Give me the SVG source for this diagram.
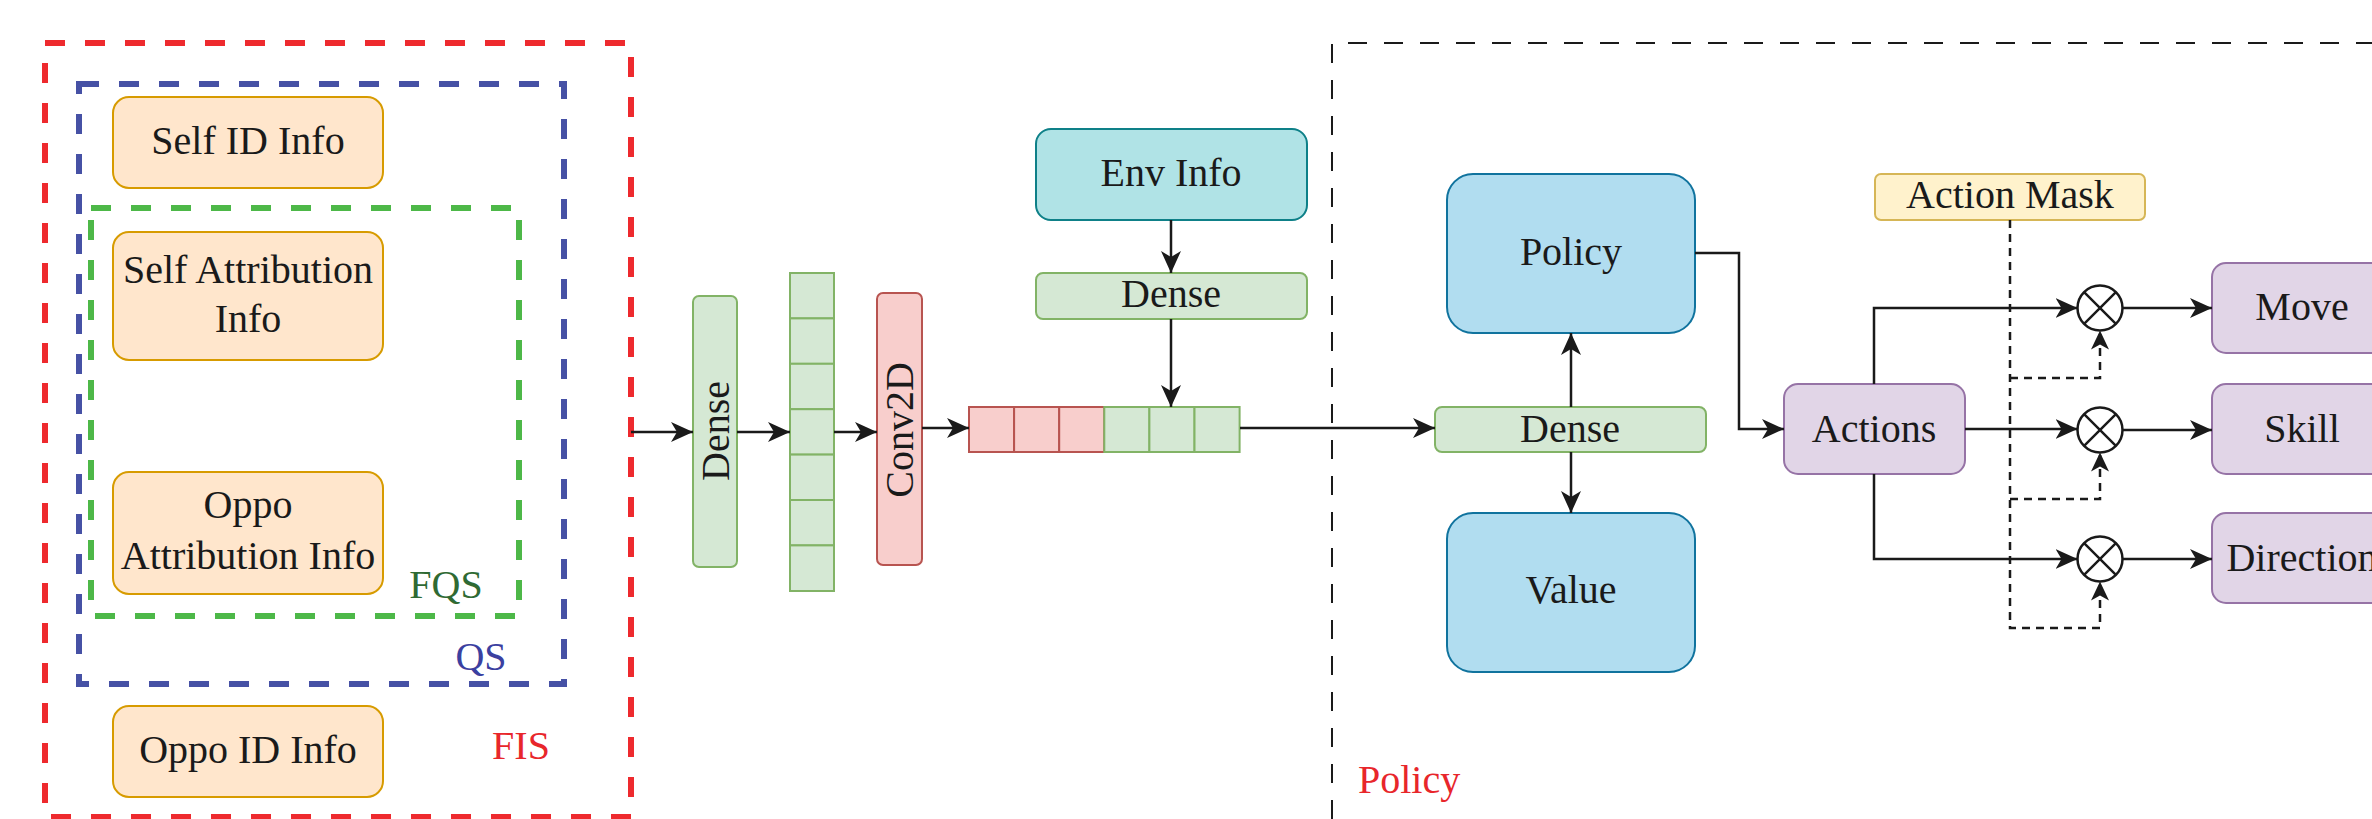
<svg xmlns="http://www.w3.org/2000/svg" width="2372" height="819" viewBox="0 0 2372 819">
  <defs>
    <style>
      text { font-family: "Liberation Serif", "Times New Roman", serif; font-size: 40px; fill: #1a1a1a; }
      .mid { text-anchor: middle; }
      .orange { fill: #ffe6cc; stroke: #d79b00; stroke-width: 2; }
      .green { fill: #d5e8d4; stroke: #82b366; stroke-width: 2; }
      .red { fill: #f8cecc; stroke: #b85450; stroke-width: 2; }
      .teal { fill: #b0e3e6; stroke: #0e8088; stroke-width: 2; }
      .blue { fill: #b1ddf0; stroke: #10739e; stroke-width: 2; }
      .purple { fill: #e1d5e7; stroke: #9673a6; stroke-width: 2; }
      .yellow { fill: #fff2cc; stroke: #d6b656; stroke-width: 2; }
      .group { fill: none; stroke-width: 6; stroke-dasharray: 20 20; }
      .edge { fill: none; stroke: #1a1a1a; stroke-width: 2.5; }
      .mask { fill: none; stroke: #1a1a1a; stroke-width: 2.5; stroke-dasharray: 8 6; }
      .op { fill: #ffffff; stroke: #1a1a1a; stroke-width: 2.5; }
    </style>
    <marker id="arrow" markerUnits="userSpaceOnUse" markerWidth="24" markerHeight="22" refX="22" refY="11" orient="auto">
      <path d="M0,1 L22,11 L0,21 L6,11 Z" fill="#1a1a1a"/>
    </marker>
    <marker id="arrowSmall" markerUnits="userSpaceOnUse" markerWidth="20" markerHeight="20" refX="19" refY="10" orient="auto">
      <path d="M0,1 L19,10 L0,19 L5,10 Z" fill="#1a1a1a"/>
    </marker>
  </defs>

  <!-- nested state groups -->
  <g id="group-fis">
    <rect class="group" x="45" y="43" width="586" height="774" stroke="#ee2a2e"/>
    <text x="521" y="759" class="mid" style="fill:#e8262b">FIS</text>
  </g>
  <g id="group-qs">
    <rect class="group" x="79" y="84" width="485" height="600" stroke="#4651a5"/>
    <text x="481" y="670" class="mid" style="fill:#3b40a0">QS</text>
  </g>
  <g id="group-fqs">
    <rect class="group" x="91" y="208" width="428" height="408" stroke="#4db848"/>
    <text x="446" y="598" class="mid" style="fill:#2f6a33">FQS</text>
  </g>

  <!-- policy region -->
  <g id="group-policy">
    <path d="M1332,819 V43 H2372" fill="none" stroke="#1a1a1a" stroke-width="2" stroke-dasharray="19 17"/>
    <text x="1358" y="793" style="fill:#e8262b">Policy</text>
  </g>

  <!-- input features -->
  <g id="self-id-info">
    <rect class="orange" x="113" y="97" width="270" height="91" rx="16"/>
    <text x="248" y="154" class="mid">Self ID Info</text>
  </g>
  <g id="self-attribution-info">
    <rect class="orange" x="113" y="232" width="270" height="128" rx="16"/>
    <text x="248" y="283" class="mid">Self Attribution</text>
    <text x="248" y="332" class="mid">Info</text>
  </g>
  <g id="oppo-attribution-info">
    <rect class="orange" x="113" y="472" width="270" height="122" rx="16"/>
    <text x="248" y="518" class="mid">Oppo</text>
    <text x="248" y="569" class="mid">Attribution Info</text>
  </g>
  <g id="oppo-id-info">
    <rect class="orange" x="113" y="706" width="270" height="91" rx="16"/>
    <text x="248" y="763" class="mid">Oppo ID Info</text>
  </g>

  <!-- encoder -->
  <g id="dense-input">
    <rect class="green" x="693" y="296" width="44" height="271" rx="6"/>
    <text class="mid" transform="translate(729,431) rotate(-90)">Dense</text>
  </g>
  <g id="feature-column">
    <rect class="green" x="790" y="273" width="44" height="45.4"/>
    <rect class="green" x="790" y="318.4" width="44" height="45.4"/>
    <rect class="green" x="790" y="363.8" width="44" height="45.4"/>
    <rect class="green" x="790" y="409.2" width="44" height="45.4"/>
    <rect class="green" x="790" y="454.6" width="44" height="45.4"/>
    <rect class="green" x="790" y="500" width="44" height="45.4"/>
    <rect class="green" x="790" y="545.4" width="44" height="45.6"/>
  </g>
  <g id="conv2d">
    <rect class="red" x="877" y="293" width="45" height="272" rx="6"/>
    <text class="mid" transform="translate(913,430) rotate(-90)">Conv2D</text>
  </g>
  <g id="concat-vector">
    <rect class="red" x="969" y="407" width="45.1" height="45"/>
    <rect class="red" x="1014.1" y="407" width="45.1" height="45"/>
    <rect class="red" x="1059.2" y="407" width="45.1" height="45"/>
    <rect class="green" x="1104.3" y="407" width="45.1" height="45"/>
    <rect class="green" x="1149.4" y="407" width="45.1" height="45"/>
    <rect class="green" x="1194.5" y="407" width="45.1" height="45"/>
  </g>
  <g id="env-info">
    <rect class="teal" x="1036" y="129" width="271" height="91" rx="15"/>
    <text x="1171" y="186" class="mid">Env Info</text>
  </g>
  <g id="dense-env">
    <rect class="green" x="1036" y="273" width="271" height="46" rx="7"/>
    <text x="1171" y="307" class="mid">Dense</text>
  </g>

  <!-- policy / value heads -->
  <g id="dense-policy">
    <rect class="green" x="1435" y="407" width="271" height="45" rx="7"/>
    <text x="1570" y="442" class="mid">Dense</text>
  </g>
  <g id="policy">
    <rect class="blue" x="1447" y="174" width="248" height="159" rx="26"/>
    <text x="1571" y="265" class="mid">Policy</text>
  </g>
  <g id="value">
    <rect class="blue" x="1447" y="513" width="248" height="159" rx="26"/>
    <text x="1571" y="603" class="mid">Value</text>
  </g>
  <g id="actions">
    <rect class="purple" x="1784" y="384" width="181" height="90" rx="14"/>
    <text x="1874" y="442" class="mid">Actions</text>
  </g>
  <g id="action-mask">
    <rect class="yellow" x="1875" y="174" width="270" height="46" rx="6"/>
    <text x="2010" y="208" class="mid">Action Mask</text>
  </g>

  <!-- masking operators -->
  <g id="mask-op-move">
    <circle class="op" cx="2100" cy="308" r="22.5"/>
    <path class="edge" d="M2084.1,292.1 L2115.9,323.9 M2115.9,292.1 L2084.1,323.9"/>
  </g>
  <g id="mask-op-skill">
    <circle class="op" cx="2100" cy="430" r="22.5"/>
    <path class="edge" d="M2084.1,414.1 L2115.9,445.9 M2115.9,414.1 L2084.1,445.9"/>
  </g>
  <g id="mask-op-direction">
    <circle class="op" cx="2100" cy="559" r="22.5"/>
    <path class="edge" d="M2084.1,543.1 L2115.9,574.9 M2115.9,543.1 L2084.1,574.9"/>
  </g>

  <!-- action outputs -->
  <g id="move">
    <rect class="purple" x="2212" y="263" width="181" height="90" rx="14"/>
    <text x="2302" y="320" class="mid">Move</text>
  </g>
  <g id="skill">
    <rect class="purple" x="2212" y="384" width="181" height="90" rx="14"/>
    <text x="2302" y="442" class="mid">Skill</text>
  </g>
  <g id="direction">
    <rect class="purple" x="2212" y="513" width="181" height="90" rx="14"/>
    <text x="2302" y="571" class="mid">Direction</text>
  </g>

  <!-- connectors -->
  <g id="connectors">
    <path class="edge" d="M631,432 H693" marker-end="url(#arrow)"/>
    <path class="edge" d="M737,432 H790" marker-end="url(#arrow)"/>
    <path class="edge" d="M834,432 H877" marker-end="url(#arrow)"/>
    <path class="edge" d="M922,428 H969" marker-end="url(#arrow)"/>
    <path class="edge" d="M1171,220 V273" marker-end="url(#arrow)"/>
    <path class="edge" d="M1171,319 V407" marker-end="url(#arrow)"/>
    <path class="edge" d="M1240,428 H1435" marker-end="url(#arrow)"/>
    <path class="edge" d="M1571,407 V333" marker-end="url(#arrow)"/>
    <path class="edge" d="M1571,452 V513" marker-end="url(#arrow)"/>
    <path class="edge" d="M1695,253 H1739 V429 H1784" marker-end="url(#arrow)"/>
    <path class="edge" d="M1874,384 V308 H2077.5" marker-end="url(#arrow)"/>
    <path class="edge" d="M1965,429 H2077.5" marker-end="url(#arrow)"/>
    <path class="edge" d="M1874,474 V559 H2077.5" marker-end="url(#arrow)"/>
    <path class="edge" d="M2122.5,308 H2212" marker-end="url(#arrow)"/>
    <path class="edge" d="M2122.5,430 H2212" marker-end="url(#arrow)"/>
    <path class="edge" d="M2122.5,559 H2212" marker-end="url(#arrow)"/>
    <path class="mask" d="M2010,220 V628 H2100 V581.5" marker-end="url(#arrowSmall)"/>
    <path class="mask" d="M2010,378 H2100 V330.5" marker-end="url(#arrowSmall)"/>
    <path class="mask" d="M2010,499 H2100 V452.5" marker-end="url(#arrowSmall)"/>
  </g>
</svg>
